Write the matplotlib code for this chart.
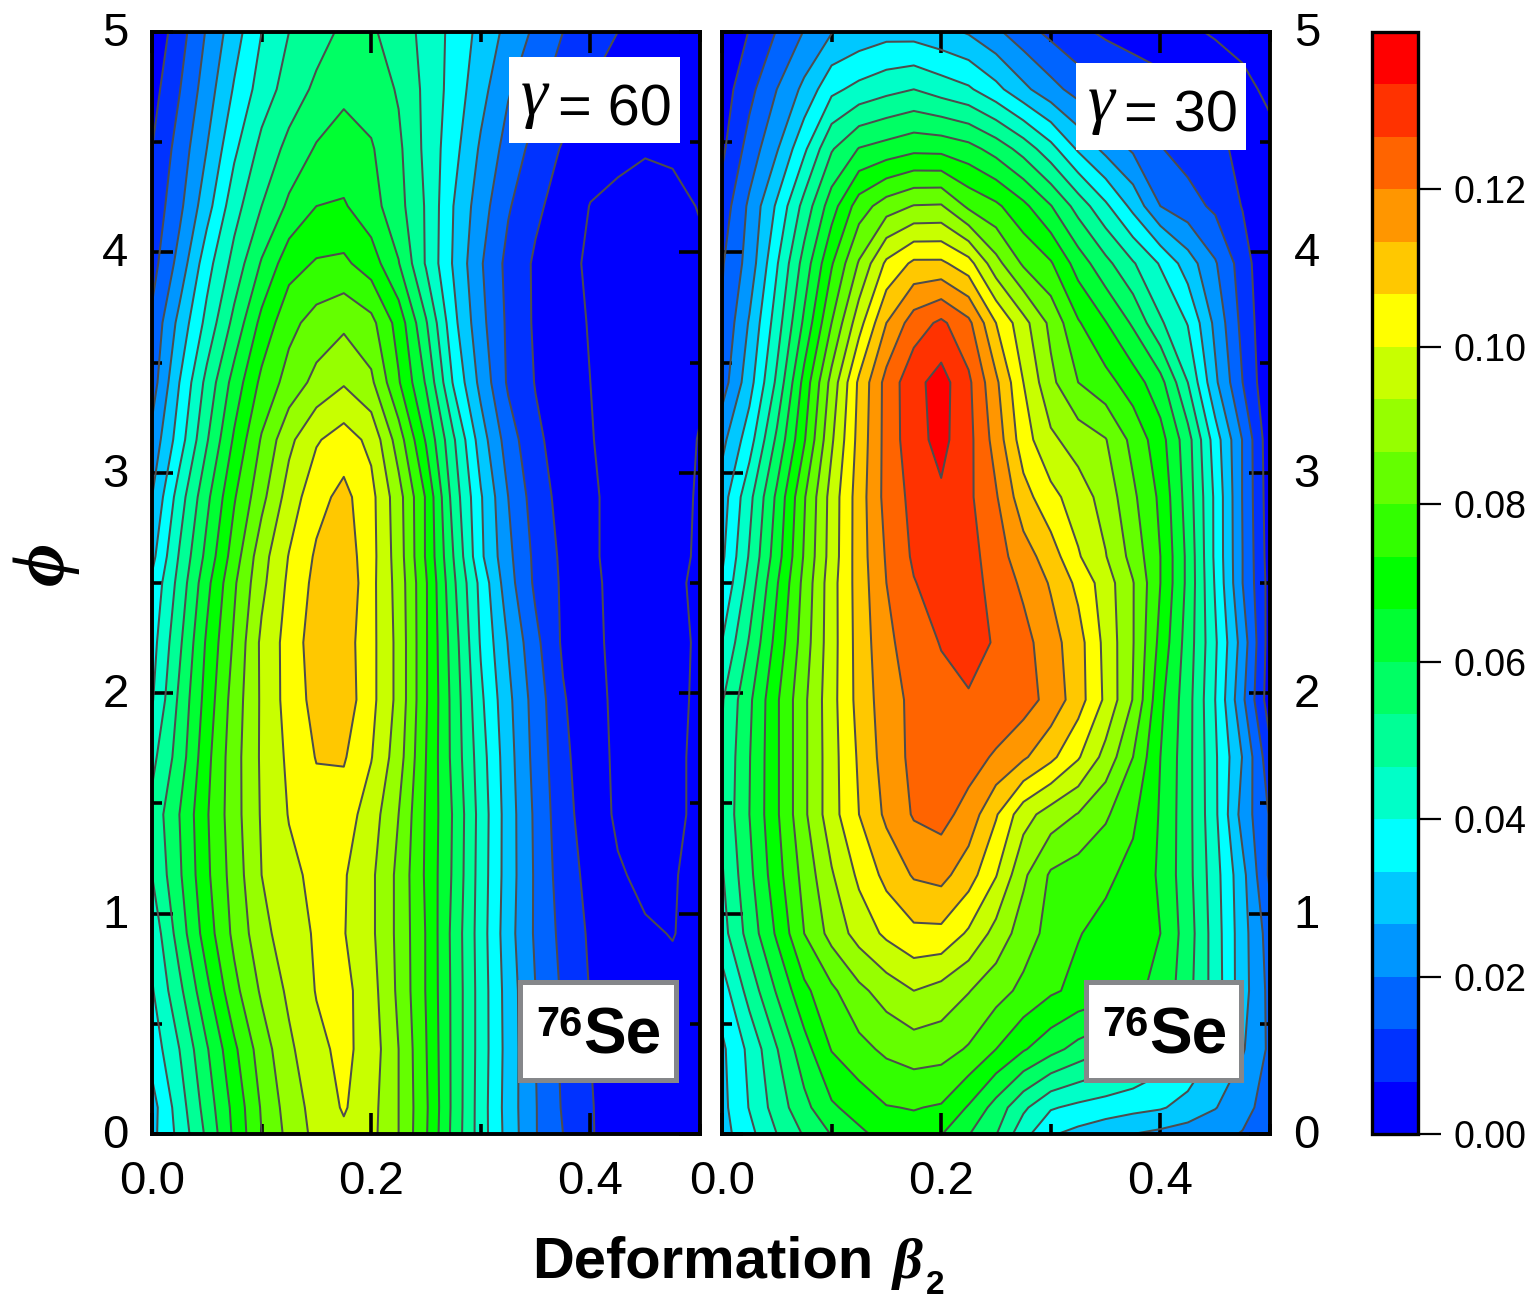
import numpy as np
import matplotlib
matplotlib.use("Agg")
import matplotlib.pyplot as plt
from matplotlib.colors import ListedColormap, BoundaryNorm
from matplotlib.cm import ScalarMappable
from matplotlib.patches import Rectangle
from matplotlib.transforms import ScaledTranslation

plt.rcParams['font.family'] = ['Liberation Sans', 'DejaVu Sans']

W, H = 1533, 1298

# colour bands of the scale, bottom to top
band_colors = ['#0000FF', '#0032FF', '#0064FF', '#0096FF', '#00C8FF', '#00FFFF', '#00FFC8',
               '#00FF96', '#00FF64', '#00FF32', '#00FF00', '#32FF00', '#64FF00', '#96FF00',
               '#C8FF00', '#FFFF00', '#FFC800', '#FF9600', '#FF6400', '#FF3200', '#FF0000']
scale_max = 0.14
band_step = scale_max / 21

beta = [0.0, 0.025, 0.05, 0.075, 0.1, 0.125, 0.15, 0.175, 0.2, 0.225, 0.25,
        0.275, 0.3, 0.325, 0.35, 0.375, 0.4, 0.425, 0.45, 0.475, 0.5]
phi = [0.0, 0.12, 0.385, 0.65, 0.91, 1.175, 1.45, 1.71, 1.97, 2.23, 2.5,
       2.62, 2.89, 3.15, 3.41, 3.68, 3.95, 4.21, 4.47, 4.74, 5.0]

# values, in units of one colour band, one row per phi
gamma60 = [
 [4.7,6.3,8.2,10.2,12,13.3,14.3,14.8,14.3,13,11.1,8.7,6.5,4.6,3.05,2,1.05,0.7,0.5,0.4,0.4],
 [4.6,6.5,8.45,10.3,12.1,13.45,14.4,15.1,14.35,13,11.15,8.75,6.5,4.55,3.05,1.9,1.05,0.65,0.45,0.4,0.4],
 [5.4,7,8.9,10.8,12.5,13.8,14.75,15.25,14.55,13,11.05,8.75,6.55,4.6,3,1.8,1,0.6,0.4,0.35,0.35],
 [5.9,7.75,9.75,11.7,13.15,14.2,15.05,15.3,14.4,12.8,10.95,8.75,6.55,4.55,3,1.85,0.95,0.5,0.25,0.2,0.3],
 [6.3,8.45,10.5,12.25,13.65,14.6,15.1,15.05,14.2,12.75,10.95,8.7,6.5,4.4,2.85,1.7,0.85,0.4,0.1,-0.03,0.25],
 [7,8.85,10.8,12.45,14,14.75,15.25,15.1,14.2,12.75,10.85,8.85,6.55,4.5,2.85,1.5,0.7,0.1,-0.2,-0.05,0.2],
 [7.3,9,10.9,12.6,14.1,15.05,15.6,15.5,14.5,13,10.9,8.9,6.6,4.5,2.8,1.35,0.5,-0.15,-0.3,-0.15,0.15],
 [6.7,8.45,10.7,12.6,14.15,15.2,16.05,16.1,15.05,13.45,11,8.7,6.45,4.4,2.65,1.25,0.35,-0.15,-0.3,-0.15,0.15],
 [5.9,8.2,10.4,12.45,14.15,15.4,16.35,16.6,15.3,13.7,11.1,8.65,6.2,4.25,2.55,1.1,0.25,-0.15,-0.3,-0.15,0.1],
 [5.6,7.8,10.15,12.15,14.2,15.4,16.55,16.5,15.3,13.7,11.1,8.5,5.9,3.95,2.25,0.85,0.2,-0.2,-0.3,-0.2,0.1],
 [5.2,7.35,9.7,11.85,13.75,15.2,16.3,16.8,15.3,13.6,11.1,8.2,5.7,3.4,1.8,0.85,0.15,-0.2,-0.3,-0.2,0.2],
 [4.7,7.1,9.3,11.5,13.6,15.05,16.15,16.6,15.35,13.5,10.9,8,5.2,3.25,1.75,0.8,0.1,-0.2,-0.3,-0.2,0.1],
 [4,6.5,8.75,10.9,12.7,14.45,15.65,16.3,15.3,13.4,10.9,7.6,5.1,3,1.5,0.65,0.1,-0.2,-0.3,-0.15,0.05],
 [3.3,5.5,7.9,10.15,12.1,13.75,14.9,15.45,14.75,12.5,9.9,7.15,4.5,2.5,1.2,0.55,0.03,-0.2,-0.3,-0.15,0.02],
 [2.5,5,7.3,9.4,11.25,12.4,13.3,13.9,13.2,11.1,8.9,5.9,3.7,1.85,0.95,0.45,0,-0.3,-0.35,-0.2,-0.05],
 [2.2,4.3,6.3,8.3,10.3,11.7,12.4,12.8,12.3,10.6,8.1,5.3,3.3,1.8,0.85,0.3,-0.05,-0.25,-0.35,-0.25,-0.15],
 [1.6,3.35,5.6,7.35,9.1,10.6,11.1,11.2,10.5,9.05,6.9,4.9,3.1,1.7,0.85,0.3,-0.15,-0.3,-0.35,-0.25,-0.1],
 [1.3,2.75,4.6,6.6,8,9.2,10,10.1,9.4,8.35,6.9,5,3.45,2.1,1.2,0.55,-0.03,-0.2,-0.25,-0.15,0.03],
 [1,2.4,4,5.8,7.3,8.3,9.1,9.4,9.1,8.2,6.75,5.35,3.85,2.6,1.65,0.9,0.4,0.2,0.05,0.08,0.2],
 [0.6,1.95,3.5,5.1,6.45,7.45,8.2,8.8,8.55,7.9,6.75,5.6,4.35,3.1,2.25,1.55,0.95,0.8,0.6,0.5,0.45],
 [0.2,1.55,3.1,4.55,6,7,7.6,8.2,8.15,7.5,6.7,5.7,4.7,3.7,2.8,2,1.5,1,0.8,0.6,0.4],
]
gamma30 = [
 [4.6,5.7,7,8.1,9.05,9.8,10.35,10.6,10.05,9.05,8.05,6.35,5.1,4.7,4.35,4,3.75,3.5,3.25,2.95,2.3],
 [4.7,6.05,7.45,8.7,9.85,10.4,10.95,11.05,10.9,9.9,8.6,7.2,6.1,5.75,5.5,5.3,5.1,4.65,4.05,3.3,2.6],
 [4.8,6.25,7.95,9.6,11.05,11.7,12.2,12.5,12.4,11.9,11,10.1,9.35,8.65,8.1,7.45,6.7,5.9,5,4.1,2.8],
 [5.5,7.4,9.1,10.75,11.8,12.75,13.45,14,13.65,13.05,12.4,11.75,11.15,10.75,10.5,10.2,9.75,8.35,6.55,4.4,2.7],
 [6.6,8.4,10.15,12,13.35,14.4,15.2,15.75,15.75,14.85,13.65,12.5,11.65,11.05,10.7,10.35,10,8.5,6.5,4.4,2.5],
 [6.9,8.75,10.6,12.35,13.9,15.2,16.3,17.1,17.3,16.45,15.05,13.2,11.85,11.5,11.2,10.7,9.85,8.35,6.4,4.3,1.8],
 [7.2,9,10.85,12.8,14.6,16,17.2,18.1,18.35,17.6,16.1,14.4,13.55,12.95,12.15,11.2,9.9,8.35,6.2,3.6,1.9],
 [7.1,8.95,10.85,12.8,14.6,16.15,17.45,18.25,18.55,18.45,17.85,17.15,16.25,15.1,13.65,12,10,8.35,6.15,3.95,1.3],
 [6.9,8.8,10.85,12.8,14.65,16.35,17.55,18.25,18.7,18.95,18.85,18.45,17.65,16.45,14.8,12.95,10.25,8.4,6,3.2,0.4],
 [6,8.1,10.35,12.5,14.6,16.4,17.75,18.55,19.05,19.2,18.95,18.35,17.4,16.4,14.7,13.05,10.7,8.55,6.15,3.55,0.5],
 [5.1,7.4,9.9,12.3,14.6,16.45,18,18.95,19.45,19.4,18.65,17.8,16.9,15.75,14.5,13.05,11,8.75,5.9,3,0.6],
 [4.8,7.1,9.55,12.1,14.45,16.5,18.1,19.15,19.55,19.4,18.45,17.45,16.5,15.1,14.05,12.65,11,8.75,5.8,3,0.5],
 [4.5,6.7,9.2,11.9,14.4,16.5,18.35,19.3,19.85,19.2,18.1,16.4,15.3,14.5,13.6,12.2,10.8,8.55,5.8,2.95,0.4],
 [3.7,5.55,8.2,10.9,13.85,16.35,18.35,19.65,20.3,19.3,17.6,15.45,14.2,13.55,13.05,11.7,10.4,8.4,5.5,2.95,0.3],
 [2.5,4.6,7.2,10.35,13.35,16.2,18.35,19.7,20.4,19.2,17.2,15,13.25,12,11.35,10.5,9.35,7,4.2,2,0.1],
 [2.1,4.1,6.5,9.2,12,14.6,17,18.5,19.2,18.25,16,14.35,12.75,11.1,10.05,8.85,7.15,5.95,3.75,1.7,0.1],
 [1.9,3.4,5.9,8.4,10.9,13.1,15.2,16.2,16.2,15.4,13.35,11.85,11.1,9.55,8.3,7.1,5.9,4.5,3.1,1.5,0],
 [1.4,3.2,5.15,7.35,9.55,11.5,12.5,13.05,13.1,11.8,11.2,10.25,9.05,7.6,6.2,4.7,3,2.4,1.8,0.95,0.1],
 [0.8,2.4,3.9,5.8,7.9,9.05,9.4,9.75,9.7,9.35,8.6,7.6,6.35,4.85,3.7,2.85,2.05,1.6,1.2,0.8,0.3],
 [0.5,1.7,3,4.25,5.75,6.3,6.7,7,6.55,6.15,5.3,4.25,3.35,2.6,1.95,1.65,1.35,1,0.65,0.25,-0.2],
 [0,1.05,2.05,3.05,3.95,4.35,4.65,4.6,4.3,3.9,3.2,2.4,1.75,1.2,0.85,0.6,0.4,0.15,-0.1,-0.3,-0.5],
]
beta_ticks = [0.0, 0.2, 0.4]
beta_minor = [0.1, 0.3, 0.5]
phi_ticks = [0, 1, 2, 3, 4, 5]
phi_minor = [0.5, 1.5, 2.5, 3.5, 4.5]
bar_ticks = [0.00, 0.02, 0.04, 0.06, 0.08, 0.10, 0.12]


def fx(px):
    return px / W


def fy(py):
    return 1 - py / H


def axes_px(x0, x1, y0, y1):
    return fig.add_axes([fx(x0), fy(y1), (x1 - x0) / W, (y1 - y0) / H])


def panel(ax, rows, labelled_side):
    X, Y = np.meshgrid(beta, phi)
    Z = np.array(rows) * band_step
    fill_levels = [-1.0] + [band_step * k for k in range(1, 22)]
    ax.contourf(X, Y, Z, levels=fill_levels, colors=band_colors)
    ax.contour(X, Y, Z, levels=[band_step * k for k in range(0, 21)],
               colors='#4d4d4d', linewidths=1.45, linestyles='solid')
    ax.set_xlim(0, 0.5)
    ax.set_ylim(0, 5)
    ax.set_xticks(beta_ticks)
    ax.set_xticks(beta_minor, minor=True)
    ax.set_yticks(phi_ticks)
    ax.set_yticks(phi_minor, minor=True)
    ax.set_xticklabels(['%.1f' % b for b in beta_ticks])
    ax.set_yticklabels([str(p) for p in phi_ticks])
    ax.tick_params(which='major', direction='in', top=True, right=True, length=15, width=2.6,
                   labelsize=34, color='black')
    ax.tick_params(which='minor', direction='in', top=True, right=True, length=7.5, width=2.6,
                   color='black')
    ax.tick_params(axis='x', which='major', pad=19)
    ax.tick_params(axis='y', which='major', pad=17)
    if labelled_side == 'right':
        ax.tick_params(axis='y', which='major', labelleft=False, labelright=True)
    lift = ScaledTranslation(0, 3 / 100, fig.dpi_scale_trans)
    for t in ax.get_yticklabels():
        t.set_transform(t.get_transform() + lift)
    for s in ax.spines.values():
        s.set_linewidth(2.8)
        s.set_zorder(4)


def add_box(x0, x1, y0, y1, edge=None):
    lw = 3.6 if edge else 0
    fig.add_artist(Rectangle((fx(x0), fy(y1)), (x1 - x0) / W, (y1 - y0) / H,
                             transform=fig.transFigure, facecolor='white',
                             edgecolor=edge if edge else 'white', linewidth=lw, zorder=5))


fig = plt.figure(figsize=(W / 100, H / 100), dpi=100, facecolor='white')

ax_left = axes_px(152, 700, 32, 1134)
ax_right = axes_px(722, 1270, 32, 1134)
panel(ax_left, gamma60, 'left')
panel(ax_right, gamma30, 'right')

# colour scale
ax_bar = axes_px(1372, 1418, 32, 1134)
bounds = [band_step * k for k in range(22)]
sm = ScalarMappable(norm=BoundaryNorm(bounds, 21), cmap=ListedColormap(band_colors))
cb = fig.colorbar(sm, cax=ax_bar, ticks=bar_ticks, drawedges=False)
cb.ax.set_yticklabels(['%.2f' % t for t in bar_ticks])
cb.ax.tick_params(length=16.5, width=1.6, labelsize=27, pad=9, which='major')
cb.ax.minorticks_off()
cb.outline.set_linewidth(2.4)

# legends inside the panels
add_box(509, 680, 57, 143)
add_box(1076, 1246, 63, 150)
add_box(520, 676, 982, 1080, edge='#85878a')
add_box(1086, 1241, 982, 1080, edge='#85878a')


def label(px, py, s, **kw):
    kw.setdefault('zorder', 6)
    fig.text(fx(px), fy(py), s, **kw)


serif = ['Liberation Serif', 'DejaVu Serif']
for gx, nx, gy, txt in [(521, 558, 115, '= 60'), (1088, 1124, 121, '= 30')]:
    label(gx, gy, '\u03b3', family=serif, style='italic', size=49, va='baseline')
    label(nx, gy + 10, txt, size=41.5, va='baseline')
for sx, tx in [(536, 583), (1102, 1149)]:
    label(sx, 1036, '76', size=30, weight='bold', va='baseline')
    label(tx, 1054, 'Se', size=46, weight='bold', va='baseline')

label(532, 1278, 'Deformation', size=41.8, weight='bold', va='baseline')
label(893, 1278, '\u03b2', family=serif, style='italic', weight='bold', size=42, va='baseline')
label(926, 1294, '2', size=24, weight='bold', va='baseline')
label(45, 563, '\u03d5', family=serif, style='italic', weight='bold',
      size=54, rotation=90, ha='center', va='center')

fig.savefig('out.png', dpi=100, facecolor='white')
